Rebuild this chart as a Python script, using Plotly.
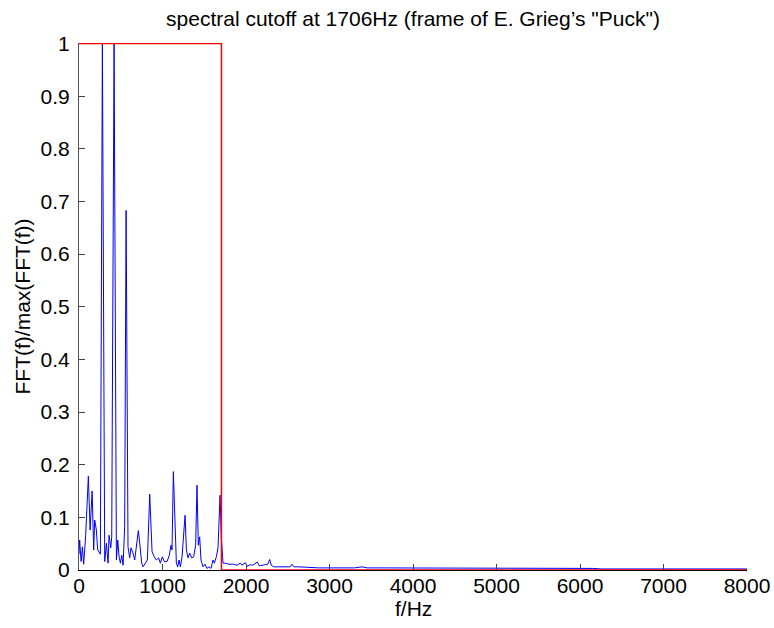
import plotly.graph_objects as go

# Blue spectrum: frequency (Hz) and normalized magnitude
freq = [0, 8, 25, 41, 56, 80, 112, 133, 157, 176, 188, 208, 224, 256, 280, 308, 328, 348, 360,
        380, 392, 420, 448, 464, 480, 496, 512, 528, 547, 564, 587, 607, 623, 647, 667, 687,
        711, 727, 751, 767, 791, 819, 847, 875, 902, 926, 954, 974, 998, 1022, 1054, 1082,
        1102, 1114, 1130, 1150, 1166, 1182, 1198, 1214, 1234, 1270, 1286, 1306, 1326, 1350,
        1373, 1397, 1413, 1429, 1445, 1461, 1485, 1509, 1533, 1557, 1581, 1605, 1621, 1645,
        1665, 1689, 1704, 1725, 1752, 1792, 1852, 1892, 1932, 1952, 1992, 2012, 2052, 2080,
        2112, 2135, 2160, 2192, 2232, 2260, 2283, 2303, 2331, 2371, 2431, 2491, 2530, 2551,
        2575, 2631, 2710, 2790, 2870, 2950, 3010, 3100, 3200, 3300, 3388, 3450, 3550, 3650,
        3750, 3850, 3950, 4050, 4150, 4250, 4350, 4450, 4550, 4650, 4750, 4850, 4950, 5050,
        5150, 5250, 5350, 5450, 5550, 5650, 5750, 5850, 5950, 6050, 6150, 6250, 6350, 6450,
        6550, 6650, 6750, 6850, 6950, 7050, 7150, 7250, 7350, 7450, 7550, 7650, 7750, 7850,
        7950, 8000]
mag = [0.030, 0.057, 0.016, 0.044, 0.011, 0.066, 0.178, 0.076, 0.150, 0.038, 0.095, 0.076,
       0.038, 0.030, 1.000, 0.016, 0.051, 0.013, 0.066, 0.042, 0.063, 1.000, 0.019, 0.057,
       0.025, 0.013, 0.028, 0.009, 0.082, 0.683, 0.044, 0.023, 0.042, 0.032, 0.019, 0.044,
       0.075, 0.051, 0.013, 0.006, 0.011, 0.019, 0.144, 0.035, 0.025, 0.019, 0.023, 0.013,
       0.025, 0.016, 0.016, 0.028, 0.047, 0.038, 0.187, 0.082, 0.013, 0.006, 0.019, 0.006,
       0.025, 0.104, 0.038, 0.023, 0.032, 0.023, 0.025, 0.047, 0.161, 0.047, 0.063, 0.019,
       0.006, 0.011, 0.003, 0.006, 0.003, 0.019, 0.013, 0.025, 0.042, 0.142, 0.063, 0.013,
       0.013, 0.011, 0.011, 0.009, 0.013, 0.009, 0.014, 0.007, 0.010, 0.009, 0.013, 0.015,
       0.008, 0.009, 0.010, 0.011, 0.020, 0.009, 0.006, 0.006, 0.005, 0.005, 0.006, 0.011,
       0.006, 0.006, 0.005, 0.005, 0.004, 0.004, 0.004, 0.004, 0.004, 0.004, 0.006, 0.004,
       0.004, 0.004, 0.003, 0.004, 0.003, 0.003, 0.004, 0.003, 0.003, 0.003, 0.004, 0.003,
       0.003, 0.003, 0.003, 0.003, 0.003, 0.003, 0.003, 0.003, 0.003, 0.003, 0.003, 0.003,
       0.003, 0.003, 0.003, 0.002, 0.002, 0.002, 0.002, 0.002, 0.002, 0.002, 0.002, 0.002,
       0.002, 0.002, 0.002, 0.002, 0.002, 0.002, 0.002, 0.002, 0.002, 0.002, 0.002, 0.002,
       0.002, 0.002]

# Red cutoff mask
cutoff_hz = 1706
mask_f = [0, cutoff_hz, cutoff_hz, 8000]
mask_v = [1, 1, 0, 0]

x_ticks = [0, 1000, 2000, 3000, 4000, 5000, 6000, 7000, 8000]
y_ticks = [0, 0.1, 0.2, 0.3, 0.4, 0.5, 0.6, 0.7, 0.8, 0.9, 1]
y_tick_text = ["0", "0.1", "0.2", "0.3", "0.4", "0.5", "0.6", "0.7", "0.8", "0.9", "1"]

font = "Liberation Sans, Arial, sans-serif"

fig = go.Figure()
fig.add_trace(go.Scatter(x=freq, y=mag, mode="lines",
                         line=dict(color="rgb(0,0,255)", width=1), showlegend=False))
fig.add_trace(go.Scatter(x=mask_f, y=mask_v, mode="lines",
                         line=dict(color="rgb(255,0,0)", width=1.5), showlegend=False))

fig.update_layout(
    width=774, height=628,
    margin=dict(l=79, r=27, t=43, b=58),
    paper_bgcolor="white", plot_bgcolor="white",
    font=dict(family=font, size=21, color="black"),
    title=dict(text='spectral cutoff at 1706Hz (frame of E. Grieg\u2019s "Puck")',
               x=0.5, xanchor="center", xref="paper", y=1 - 19 / 628, yanchor="middle",
               font=dict(size=21)),
    xaxis=dict(range=[0, 8000], tickvals=x_ticks, ticks="inside", ticklen=6,
               showgrid=False, zeroline=False, showline=True, linecolor="black",
               linewidth=1, mirror=False, automargin=False, ticklabelstandoff=-3),
    yaxis=dict(range=[0, 1.001], tickvals=y_ticks, ticktext=y_tick_text, ticks="inside",
               ticklen=6, showgrid=False, zeroline=False, showline=True,
               linecolor="#555555", linewidth=1, mirror=False, automargin=False,
               ticklabelstandoff=4),
    annotations=[
        dict(text="f/Hz", xref="paper", yref="paper", x=0.5, y=(570 - 608) / 527,
             xanchor="center", yanchor="middle", showarrow=False, borderpad=0,
             font=dict(size=21)),
        dict(text="FFT(f)/max(FFT(f))", xref="paper", yref="paper",
             x=(22 - 79) / 668, y=0.5, xanchor="center", yanchor="middle",
             textangle=-90, showarrow=False, borderpad=0, font=dict(size=21)),
    ],
)

fig.write_html("out.html")
